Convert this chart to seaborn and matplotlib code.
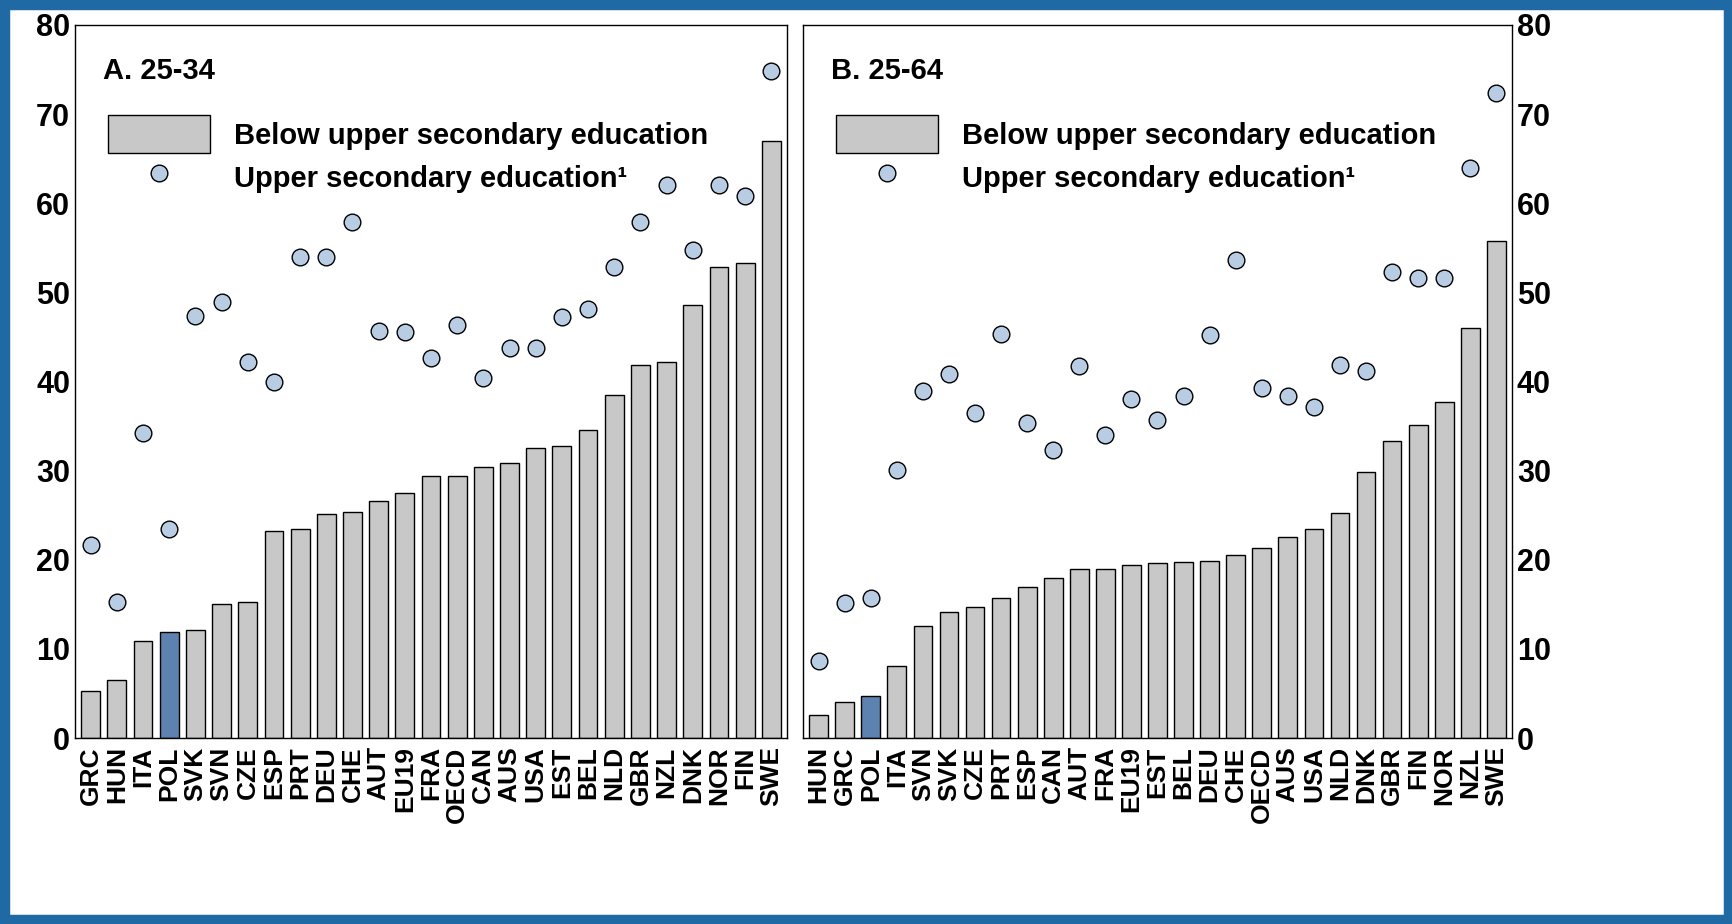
import matplotlib
matplotlib.use("Agg")
import matplotlib.pyplot as plt
import seaborn as sns
import pandas as pd
from matplotlib.patches import Patch, Rectangle
from matplotlib.lines import Line2D
from matplotlib import font_manager as fm

sns.set_style("white")
names = {f.name for f in fm.fontManager.ttflist}
fam = "Liberation Sans Narrow" if "Liberation Sans Narrow" in names else "Liberation Sans"
plt.rcParams['font.family'] = [fam, 'DejaVu Sans']
plt.rcParams['font.weight'] = 'bold'
plt.rcParams['text.color'] = 'black'
plt.rcParams['xtick.color'] = 'black'
plt.rcParams['ytick.color'] = 'black'

cat_a = ["GRC","HUN","ITA","POL","SVK","SVN","CZE","ESP","PRT","DEU","CHE","AUT","EU19","FRA","OECD","CAN","AUS","USA","EST","BEL","NLD","GBR","NZL","DNK","NOR","FIN","SWE"]
below_a = [5.3,6.5,10.9,11.9,12.1,15.0,15.3,23.2,23.4,25.1,25.4,26.6,27.5,29.4,29.4,30.4,30.9,32.5,32.8,34.6,38.5,41.9,42.2,48.6,52.8,53.3,67.0]
upper_a = [21.7,15.3,34.2,23.5,47.3,48.9,42.2,40.0,54.0,54.0,57.9,45.7,45.5,42.6,46.3,40.4,43.8,43.8,47.2,48.1,52.9,57.9,62.1,54.7,62.1,60.8,74.8]

cat_b = ["HUN","GRC","POL","ITA","SVN","SVK","CZE","PRT","ESP","CAN","AUT","FRA","EU19","EST","BEL","DEU","CHE","OECD","AUS","USA","NLD","DNK","GBR","FIN","NOR","NZL","SWE"]
below_b = [2.6,4.0,4.7,8.1,12.6,14.1,14.7,15.7,16.9,18.0,19.0,19.0,19.4,19.6,19.8,19.9,20.5,21.3,22.6,23.4,25.2,29.8,33.3,35.1,37.7,46.0,55.8]
upper_b = [8.6,15.2,15.7,30.1,38.9,40.8,36.5,45.3,35.3,32.3,41.7,34.0,38.0,35.7,38.4,45.2,53.6,39.3,38.4,37.1,41.9,41.2,52.3,51.6,51.6,64.0,72.4]

fig = plt.figure(figsize=(17.33, 9.24), dpi=100)
fig.patches.append(Rectangle((0, 0), 1, 1, transform=fig.transFigure, fill=False,
                             edgecolor="#1f6aa5", linewidth=14, zorder=10))
axA = fig.add_axes([75/1733, 1-738/924, 712/1733, 713/924])
axB = fig.add_axes([803/1733, 1-738/924, 709/1733, 713/924])

def panel(ax, cats, below, upper, title, right):
    df = pd.DataFrame({"c": cats, "b": below, "u": upper})
    cols = ["#4f81bd" if c == "POL" else "#c8c8c8" for c in cats]
    sns.barplot(data=df, x="c", y="b", hue="c", palette=cols, legend=False,
                edgecolor="black", linewidth=1, width=0.72, ax=ax)
    sns.stripplot(data=df, x="c", y="u", jitter=False, color="#b8cce4",
                  edgecolor="black", linewidth=1, size=12, ax=ax, zorder=5)
    ax.set_ylim(0, 80)
    ax.set_xlim(-0.6, len(cats) - 0.4)
    ax.set_yticks(range(0, 81, 10))
    ax.set_xlabel(""); ax.set_ylabel("")
    for s in ax.spines.values():
        s.set_color("black"); s.set_linewidth(1)
    ax.tick_params(axis="x", labelrotation=90, labelsize=19, length=0, pad=6)
    ax.tick_params(axis="y", labelsize=22, length=0)
    if right:
        ax.yaxis.tick_right()
    ax.text(0.04, 0.955, title, transform=ax.transAxes, fontsize=21,
            fontweight="bold", va="top")
    h = [Patch(facecolor="#c8c8c8", edgecolor="black"),
         Line2D([], [], marker="o", ls="", markerfacecolor="#b8cce4",
                markeredgecolor="black", markersize=12)]
    ax.legend(h, ["Below upper secondary education", "Upper secondary education\u00b9"],
              loc="upper left", bbox_to_anchor=(0.01, 0.91), frameon=False,
              fontsize=21, handlelength=3.5, handleheight=1.6, labelspacing=0.2,
              handletextpad=0.8)

panel(axA, cat_a, below_a, upper_a, "A. 25-34", False)
panel(axB, cat_b, below_b, upper_b, "B. 25-64", True)
fig.savefig("out.png", dpi=100)
